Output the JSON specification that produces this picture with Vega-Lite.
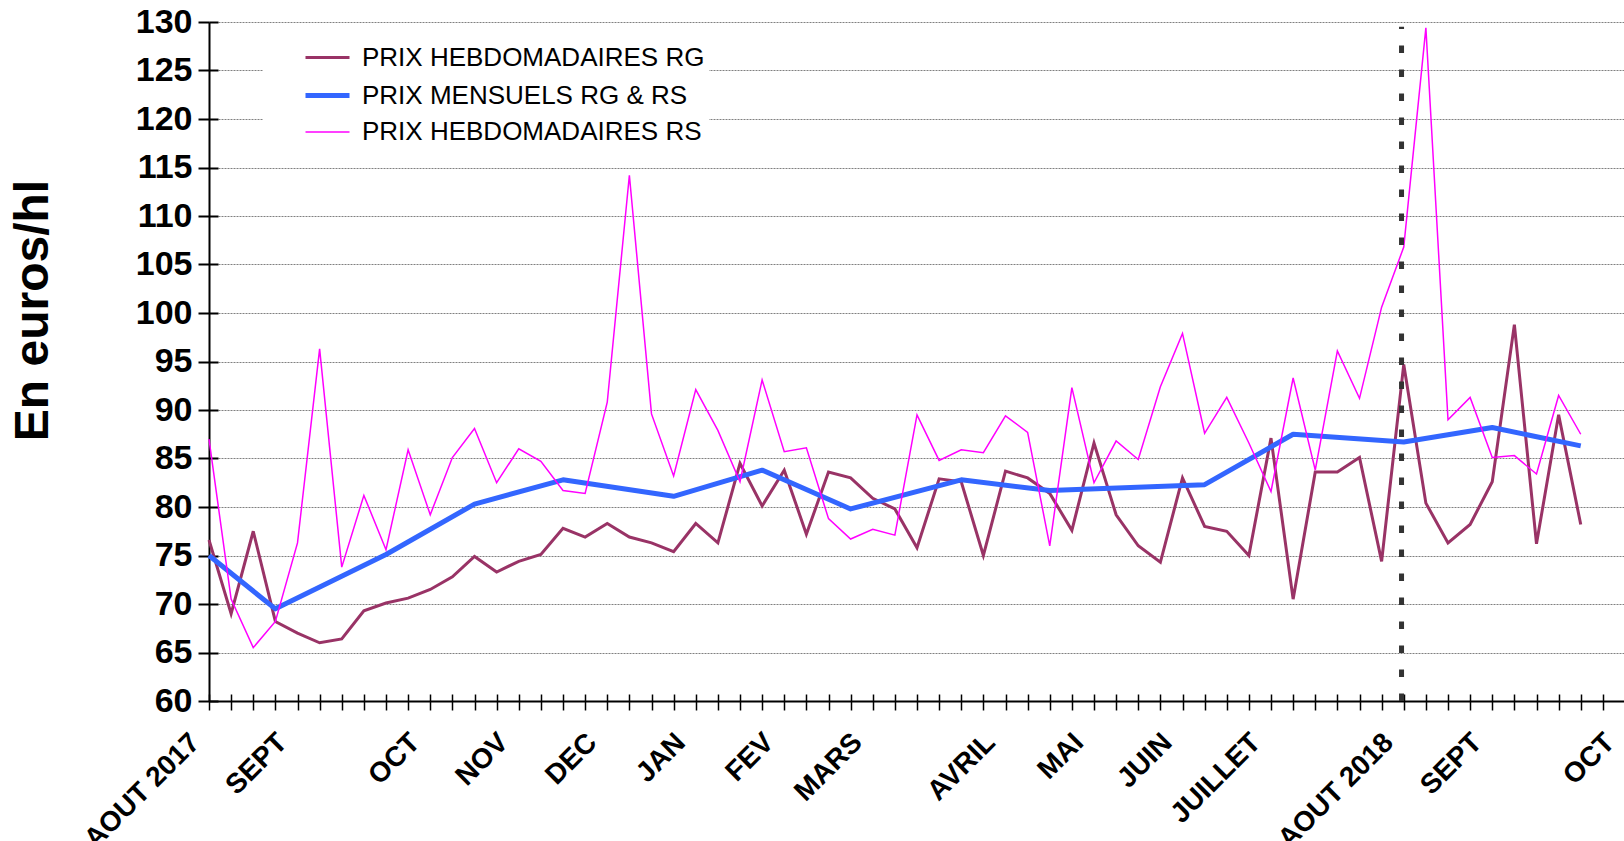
{
  "$schema": "https://vega.github.io/schema/vega-lite/v6.json",
  "width": 1416,
  "height": 679,
  "autosize": {"type": "none"},
  "padding": {"left": 209, "top": 22, "right": 0, "bottom": 140},
  "background": "white",
  "config": {
    "font": "Liberation Sans",
    "view": {"stroke": null}
  },
  "datasets": {
    "prices": [
      {"week": 0, "series": "PRIX HEBDOMADAIRES RG", "price": 76.6},
      {"week": 1, "series": "PRIX HEBDOMADAIRES RG", "price": 69.0},
      {"week": 2, "series": "PRIX HEBDOMADAIRES RG", "price": 77.5},
      {"week": 3, "series": "PRIX HEBDOMADAIRES RG", "price": 68.2},
      {"week": 4, "series": "PRIX HEBDOMADAIRES RG", "price": 67.0},
      {"week": 5, "series": "PRIX HEBDOMADAIRES RG", "price": 66.0},
      {"week": 6, "series": "PRIX HEBDOMADAIRES RG", "price": 66.4},
      {"week": 7, "series": "PRIX HEBDOMADAIRES RG", "price": 69.3},
      {"week": 8, "series": "PRIX HEBDOMADAIRES RG", "price": 70.1},
      {"week": 9, "series": "PRIX HEBDOMADAIRES RG", "price": 70.6},
      {"week": 10, "series": "PRIX HEBDOMADAIRES RG", "price": 71.5},
      {"week": 11, "series": "PRIX HEBDOMADAIRES RG", "price": 72.8},
      {"week": 12, "series": "PRIX HEBDOMADAIRES RG", "price": 74.9},
      {"week": 13, "series": "PRIX HEBDOMADAIRES RG", "price": 73.3},
      {"week": 14, "series": "PRIX HEBDOMADAIRES RG", "price": 74.4},
      {"week": 15, "series": "PRIX HEBDOMADAIRES RG", "price": 75.1},
      {"week": 16, "series": "PRIX HEBDOMADAIRES RG", "price": 77.8},
      {"week": 17, "series": "PRIX HEBDOMADAIRES RG", "price": 76.9},
      {"week": 18, "series": "PRIX HEBDOMADAIRES RG", "price": 78.3},
      {"week": 19, "series": "PRIX HEBDOMADAIRES RG", "price": 76.9},
      {"week": 20, "series": "PRIX HEBDOMADAIRES RG", "price": 76.3},
      {"week": 21, "series": "PRIX HEBDOMADAIRES RG", "price": 75.4},
      {"week": 22, "series": "PRIX HEBDOMADAIRES RG", "price": 78.3},
      {"week": 23, "series": "PRIX HEBDOMADAIRES RG", "price": 76.3},
      {"week": 24, "series": "PRIX HEBDOMADAIRES RG", "price": 84.5},
      {"week": 25, "series": "PRIX HEBDOMADAIRES RG", "price": 80.1},
      {"week": 26, "series": "PRIX HEBDOMADAIRES RG", "price": 83.8},
      {"week": 27, "series": "PRIX HEBDOMADAIRES RG", "price": 77.2},
      {"week": 28, "series": "PRIX HEBDOMADAIRES RG", "price": 83.6},
      {"week": 29, "series": "PRIX HEBDOMADAIRES RG", "price": 83.0},
      {"week": 30, "series": "PRIX HEBDOMADAIRES RG", "price": 80.9},
      {"week": 31, "series": "PRIX HEBDOMADAIRES RG", "price": 79.8},
      {"week": 32, "series": "PRIX HEBDOMADAIRES RG", "price": 75.8},
      {"week": 33, "series": "PRIX HEBDOMADAIRES RG", "price": 82.9},
      {"week": 34, "series": "PRIX HEBDOMADAIRES RG", "price": 82.6},
      {"week": 35, "series": "PRIX HEBDOMADAIRES RG", "price": 75.0},
      {"week": 36, "series": "PRIX HEBDOMADAIRES RG", "price": 83.7},
      {"week": 37, "series": "PRIX HEBDOMADAIRES RG", "price": 83.0},
      {"week": 38, "series": "PRIX HEBDOMADAIRES RG", "price": 81.4},
      {"week": 39, "series": "PRIX HEBDOMADAIRES RG", "price": 77.6},
      {"week": 40, "series": "PRIX HEBDOMADAIRES RG", "price": 86.6},
      {"week": 41, "series": "PRIX HEBDOMADAIRES RG", "price": 79.2},
      {"week": 42, "series": "PRIX HEBDOMADAIRES RG", "price": 76.0},
      {"week": 43, "series": "PRIX HEBDOMADAIRES RG", "price": 74.3},
      {"week": 44, "series": "PRIX HEBDOMADAIRES RG", "price": 83.0},
      {"week": 45, "series": "PRIX HEBDOMADAIRES RG", "price": 78.0},
      {"week": 46, "series": "PRIX HEBDOMADAIRES RG", "price": 77.5},
      {"week": 47, "series": "PRIX HEBDOMADAIRES RG", "price": 75.0},
      {"week": 48, "series": "PRIX HEBDOMADAIRES RG", "price": 87.1},
      {"week": 49, "series": "PRIX HEBDOMADAIRES RG", "price": 70.5},
      {"week": 50, "series": "PRIX HEBDOMADAIRES RG", "price": 83.6},
      {"week": 51, "series": "PRIX HEBDOMADAIRES RG", "price": 83.6},
      {"week": 52, "series": "PRIX HEBDOMADAIRES RG", "price": 85.1},
      {"week": 53, "series": "PRIX HEBDOMADAIRES RG", "price": 74.4},
      {"week": 54, "series": "PRIX HEBDOMADAIRES RG", "price": 94.7},
      {"week": 55, "series": "PRIX HEBDOMADAIRES RG", "price": 80.4},
      {"week": 56, "series": "PRIX HEBDOMADAIRES RG", "price": 76.3},
      {"week": 57, "series": "PRIX HEBDOMADAIRES RG", "price": 78.2},
      {"week": 58, "series": "PRIX HEBDOMADAIRES RG", "price": 82.6},
      {"week": 59, "series": "PRIX HEBDOMADAIRES RG", "price": 98.8},
      {"week": 60, "series": "PRIX HEBDOMADAIRES RG", "price": 76.2},
      {"week": 61, "series": "PRIX HEBDOMADAIRES RG", "price": 89.5},
      {"week": 62, "series": "PRIX HEBDOMADAIRES RG", "price": 78.2},

      {"week": 0, "series": "PRIX MENSUELS RG & RS", "price": 75.0},
      {"week": 3, "series": "PRIX MENSUELS RG & RS", "price": 69.5},
      {"week": 8, "series": "PRIX MENSUELS RG & RS", "price": 75.1},
      {"week": 12, "series": "PRIX MENSUELS RG & RS", "price": 80.3},
      {"week": 16, "series": "PRIX MENSUELS RG & RS", "price": 82.8},
      {"week": 21, "series": "PRIX MENSUELS RG & RS", "price": 81.1},
      {"week": 25, "series": "PRIX MENSUELS RG & RS", "price": 83.8},
      {"week": 29, "series": "PRIX MENSUELS RG & RS", "price": 79.8},
      {"week": 34, "series": "PRIX MENSUELS RG & RS", "price": 82.8},
      {"week": 38, "series": "PRIX MENSUELS RG & RS", "price": 81.7},
      {"week": 45, "series": "PRIX MENSUELS RG & RS", "price": 82.3},
      {"week": 49, "series": "PRIX MENSUELS RG & RS", "price": 87.5},
      {"week": 54, "series": "PRIX MENSUELS RG & RS", "price": 86.7},
      {"week": 58, "series": "PRIX MENSUELS RG & RS", "price": 88.2},
      {"week": 62, "series": "PRIX MENSUELS RG & RS", "price": 86.3},

      {"week": 0, "series": "PRIX HEBDOMADAIRES RS", "price": 87.0},
      {"week": 1, "series": "PRIX HEBDOMADAIRES RS", "price": 70.5},
      {"week": 2, "series": "PRIX HEBDOMADAIRES RS", "price": 65.5},
      {"week": 3, "series": "PRIX HEBDOMADAIRES RS", "price": 68.2},
      {"week": 4, "series": "PRIX HEBDOMADAIRES RS", "price": 76.3},
      {"week": 5, "series": "PRIX HEBDOMADAIRES RS", "price": 96.3},
      {"week": 6, "series": "PRIX HEBDOMADAIRES RS", "price": 73.8},
      {"week": 7, "series": "PRIX HEBDOMADAIRES RS", "price": 81.2},
      {"week": 8, "series": "PRIX HEBDOMADAIRES RS", "price": 75.6},
      {"week": 9, "series": "PRIX HEBDOMADAIRES RS", "price": 85.9},
      {"week": 10, "series": "PRIX HEBDOMADAIRES RS", "price": 79.2},
      {"week": 11, "series": "PRIX HEBDOMADAIRES RS", "price": 85.1},
      {"week": 12, "series": "PRIX HEBDOMADAIRES RS", "price": 88.1},
      {"week": 13, "series": "PRIX HEBDOMADAIRES RS", "price": 82.5},
      {"week": 14, "series": "PRIX HEBDOMADAIRES RS", "price": 86.0},
      {"week": 15, "series": "PRIX HEBDOMADAIRES RS", "price": 84.7},
      {"week": 16, "series": "PRIX HEBDOMADAIRES RS", "price": 81.7},
      {"week": 17, "series": "PRIX HEBDOMADAIRES RS", "price": 81.4},
      {"week": 18, "series": "PRIX HEBDOMADAIRES RS", "price": 90.8},
      {"week": 19, "series": "PRIX HEBDOMADAIRES RS", "price": 114.2},
      {"week": 20, "series": "PRIX HEBDOMADAIRES RS", "price": 89.6},
      {"week": 21, "series": "PRIX HEBDOMADAIRES RS", "price": 83.2},
      {"week": 22, "series": "PRIX HEBDOMADAIRES RS", "price": 92.1},
      {"week": 23, "series": "PRIX HEBDOMADAIRES RS", "price": 87.9},
      {"week": 24, "series": "PRIX HEBDOMADAIRES RS", "price": 82.6},
      {"week": 25, "series": "PRIX HEBDOMADAIRES RS", "price": 93.1},
      {"week": 26, "series": "PRIX HEBDOMADAIRES RS", "price": 85.7},
      {"week": 27, "series": "PRIX HEBDOMADAIRES RS", "price": 86.1},
      {"week": 28, "series": "PRIX HEBDOMADAIRES RS", "price": 78.8},
      {"week": 29, "series": "PRIX HEBDOMADAIRES RS", "price": 76.7},
      {"week": 30, "series": "PRIX HEBDOMADAIRES RS", "price": 77.7},
      {"week": 31, "series": "PRIX HEBDOMADAIRES RS", "price": 77.1},
      {"week": 32, "series": "PRIX HEBDOMADAIRES RS", "price": 89.5},
      {"week": 33, "series": "PRIX HEBDOMADAIRES RS", "price": 84.8},
      {"week": 34, "series": "PRIX HEBDOMADAIRES RS", "price": 85.9},
      {"week": 35, "series": "PRIX HEBDOMADAIRES RS", "price": 85.6},
      {"week": 36, "series": "PRIX HEBDOMADAIRES RS", "price": 89.4},
      {"week": 37, "series": "PRIX HEBDOMADAIRES RS", "price": 87.7},
      {"week": 38, "series": "PRIX HEBDOMADAIRES RS", "price": 76.0},
      {"week": 39, "series": "PRIX HEBDOMADAIRES RS", "price": 92.3},
      {"week": 40, "series": "PRIX HEBDOMADAIRES RS", "price": 82.5},
      {"week": 41, "series": "PRIX HEBDOMADAIRES RS", "price": 86.8},
      {"week": 42, "series": "PRIX HEBDOMADAIRES RS", "price": 84.9},
      {"week": 43, "series": "PRIX HEBDOMADAIRES RS", "price": 92.4},
      {"week": 44, "series": "PRIX HEBDOMADAIRES RS", "price": 97.9},
      {"week": 45, "series": "PRIX HEBDOMADAIRES RS", "price": 87.6},
      {"week": 46, "series": "PRIX HEBDOMADAIRES RS", "price": 91.3},
      {"week": 47, "series": "PRIX HEBDOMADAIRES RS", "price": 86.6},
      {"week": 48, "series": "PRIX HEBDOMADAIRES RS", "price": 81.6},
      {"week": 49, "series": "PRIX HEBDOMADAIRES RS", "price": 93.3},
      {"week": 50, "series": "PRIX HEBDOMADAIRES RS", "price": 83.8},
      {"week": 51, "series": "PRIX HEBDOMADAIRES RS", "price": 96.1},
      {"week": 52, "series": "PRIX HEBDOMADAIRES RS", "price": 91.2},
      {"week": 53, "series": "PRIX HEBDOMADAIRES RS", "price": 100.6},
      {"week": 54, "series": "PRIX HEBDOMADAIRES RS", "price": 106.8},
      {"week": 55, "series": "PRIX HEBDOMADAIRES RS", "price": 129.4},
      {"week": 56, "series": "PRIX HEBDOMADAIRES RS", "price": 89.0},
      {"week": 57, "series": "PRIX HEBDOMADAIRES RS", "price": 91.3},
      {"week": 58, "series": "PRIX HEBDOMADAIRES RS", "price": 85.1},
      {"week": 59, "series": "PRIX HEBDOMADAIRES RS", "price": 85.3},
      {"week": 60, "series": "PRIX HEBDOMADAIRES RS", "price": 83.4},
      {"week": 61, "series": "PRIX HEBDOMADAIRES RS", "price": 91.5},
      {"week": 62, "series": "PRIX HEBDOMADAIRES RS", "price": 87.5}
    ],
    "marker": [{"week": 53.9, "price": 60, "top": 129.5}]
  },
  "data": {"name": "prices"},
  "resolve": {"axis": {"x": "independent", "y": "independent"}},
  "encoding": {
    "x": {
      "field": "week",
      "type": "quantitative",
      "scale": {"domain": [0, 64], "nice": false, "zero": false},
      "axis": {
        "orient": "bottom",
        "values": [0,1,2,3,4,5,6,7,8,9,10,11,12,13,14,15,16,17,18,19,20,21,22,23,24,25,26,27,28,29,30,31,32,33,34,35,36,37,38,39,40,41,42,43,44,45,46,47,48,49,50,51,52,53,54,55,56,57,58,59,60,61,62,63,64],
        "labelExpr": "datum.value==0?'AOUT 2017':datum.value==3?'SEPT':datum.value==9?'OCT':datum.value==13?'NOV':datum.value==17?'DEC':datum.value==21?'JAN':datum.value==25?'FEV':datum.value==29?'MARS':datum.value==35?'AVRIL':datum.value==39?'MAI':datum.value==43?'JUIN':datum.value==47?'JUILLET':datum.value==53?'AOUT 2018':datum.value==57?'SEPT':datum.value==63?'OCT':''",
        "labelAngle": -45,
        "labelAlign": "right",
        "labelBaseline": "middle",
        "labelFontSize": 28,
        "labelFontWeight": "bold",
        "labelColor": "black",
        "labelPadding": 28,
        "labelOverlap": false,
        "labelBound": false,
        "labelFlush": false,
        "labelOffset": {"condition": {"test": "datum.value == 0", "value": -14}, "value": 7},
        "tickSize": 9,
        "tickColor": "black",
        "tickWidth": 1.5,
        "domainColor": "black",
        "domainWidth": 2,
        "grid": false,
        "title": null
      }
    },
    "y": {
      "field": "price",
      "type": "quantitative",
      "scale": {"domain": [60, 130], "nice": false, "zero": false},
      "axis": {
        "orient": "left",
        "values": [60,65,70,75,80,85,90,95,100,105,110,115,120,125,130],
        "title": "En euros/hl",
        "titleFontSize": 48,
        "titleFontWeight": "bold",
        "titleColor": "black",
        "titlePadding": 78,
        "titleY": 288,
        "labelFontSize": 34,
        "labelFontWeight": "bold",
        "labelColor": "black",
        "labelPadding": 6,
        "tickSize": 11,
        "tickColor": "black",
        "tickWidth": 2,
        "domainColor": "black",
        "domainWidth": 2,
        "grid": true,
        "gridColor": "#808080",
        "gridDash": [2, 1],
        "gridWidth": 1
      }
    },
    "color": {
      "field": "series",
      "type": "nominal",
      "title": null,
      "scale": {
        "domain": ["PRIX HEBDOMADAIRES RG", "PRIX MENSUELS RG & RS", "PRIX HEBDOMADAIRES RS"],
        "range": ["#993366", "#3366FF", "#FF00FF"]
      },
      "legend": {
        "orient": "none",
        "legendX": 54,
        "legendY": 8,
        "fillColor": "white",
        "padding": 4,
        "symbolType": "stroke",
        "symbolSize": 1936,
        "labelFontSize": 26,
        "labelFont": "Liberation Sans",
        "labelColor": "black",
        "labelLimit": 700,
        "rowPadding": 0,
        "symbolOffset": 36,
        "labelOffset": 10
      }
    },
    "strokeWidth": {
      "field": "series",
      "type": "nominal",
      "title": null,
      "scale": {
        "type": "ordinal",
        "domain": ["PRIX HEBDOMADAIRES RG", "PRIX MENSUELS RG & RS", "PRIX HEBDOMADAIRES RS"],
        "range": [3, 5, 1.5]
      },
      "legend": {
        "orient": "none",
        "legendX": 54,
        "legendY": 8,
        "fillColor": "white",
        "padding": 4,
        "symbolType": "stroke",
        "symbolSize": 1936,
        "labelFontSize": 26,
        "labelFont": "Liberation Sans",
        "labelColor": "black",
        "labelLimit": 700,
        "rowPadding": 0,
        "symbolOffset": 36,
        "labelOffset": 10
      }
    }
  },
  "layer": [
    {
      "transform": [{"filter": "datum.series == 'PRIX HEBDOMADAIRES RG'"}],
      "mark": {"type": "line", "strokeJoin": "miter"}
    },
    {
      "transform": [{"filter": "datum.series == 'PRIX MENSUELS RG & RS'"}],
      "mark": {"type": "line", "strokeJoin": "round"},
      "encoding": {
        "x": {"field": "week", "type": "quantitative", "axis": null},
        "y": {"field": "price", "type": "quantitative", "axis": null}
      }
    },
    {
      "transform": [{"filter": "datum.series == 'PRIX HEBDOMADAIRES RS'"}],
      "mark": {"type": "line", "strokeJoin": "miter"},
      "encoding": {
        "x": {"field": "week", "type": "quantitative", "axis": null},
        "y": {"field": "price", "type": "quantitative", "axis": null}
      }
    },
    {
      "data": {"name": "marker"},
      "mark": {"type": "rule", "strokeDash": [7.5, 16.5], "strokeCap": "butt"},
      "encoding": {
        "x": {
          "field": "week",
          "type": "quantitative",
          "axis": {
            "orient": "bottom",
            "offset": -7,
            "values": [0,1,2,3,4,5,6,7,8,9,10,11,12,13,14,15,16,17,18,19,20,21,22,23,24,25,26,27,28,29,30,31,32,33,34,35,36,37,38,39,40,41,42,43,44,45,46,47,48,49,50,51,52,53,54,55,56,57,58,59,60,61,62,63,64],
            "labels": false,
            "domain": false,
            "grid": false,
            "tickSize": 7,
            "tickColor": "black",
            "tickWidth": 1.5,
            "title": null
          }
        },
        "y": {
          "field": "price",
          "type": "quantitative",
          "axis": {
            "orient": "left",
            "offset": -9,
            "values": [60,65,70,75,80,85,90,95,100,105,110,115,120,125,130],
            "labels": false,
            "domain": false,
            "grid": false,
            "tickSize": 9,
            "tickColor": "black",
            "tickWidth": 2,
            "title": null
          }
        },
        "y2": {"field": "top"},
        "color": {"value": "#333333"},
        "strokeWidth": {"value": 5}
      }
    }
  ]
}
